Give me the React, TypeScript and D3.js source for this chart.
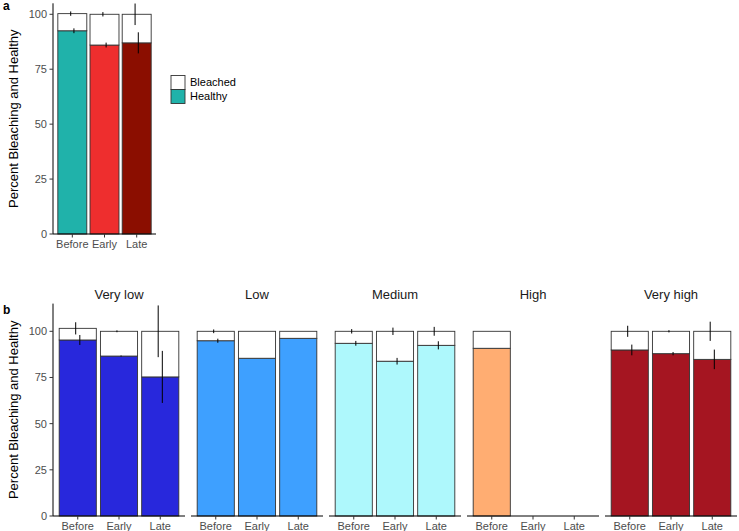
import * as d3 from "d3";

// time periods on the x axis
const periods = ["Before", "Early", "Late"];

// panel a: all sites
const aHealthy = [92.5, 86, 87];
const aTotal = [100.3, 100, 100];
const aBleachedErr = [1, 1, 4.9];
const aHealthyErr = [1.1, 1.1, 4.8];
const aColors = ["#20B2AA", "#EE2E2E", "#8B0E00"];

// panel b: by heat stress group
const groups = ["Very low", "Low", "Medium", "High", "Very high"];
const groupColors = ["#2828DC", "#3EA0FF", "#AEF8FC", "#FFAD72", "#A51521"];
const bHealthy: (number | null)[][] = [
  [95.3, 86.6, 75.3],
  [94.9, 85.4, 96.2],
  [93.5, 83.8, 92.4],
  [90.8, null, null],
  [89.9, 87.9, 84.8],
];
const bTotal: (number | null)[][] = [
  [101.6, 100, 100],
  [100, 100, 100],
  [100, 100, 100],
  [100, null, null],
  [100, 100, 100],
];
const bBleachedErr = [
  [3.3, 0.5, 14],
  [1, 0, 0],
  [1.2, 2, 2.4],
  [0, 0, 0],
  [3, 0.6, 5.2],
];
const bHealthyErr = [
  [2.7, 0.3, 14.1],
  [1.1, 0, 0],
  [1.3, 1.8, 2.2],
  [0, 0, 0],
  [2.9, 0.9, 5.3],
];

const yTicks = [0, 25, 50, 75, 100];
const legendKeys = ["Bleached", "Healthy"];

const font = "'Liberation Sans', Arial, sans-serif";
const outline = "#333333";

type PanelProps = {
  x0: number;
  x1: number;
  yScale: d3.ScaleLinear<number, number>;
  healthy: (number | null)[];
  total: (number | null)[];
  bleachedErr: number[];
  healthyErr: number[];
  colors: string[];
  showY: boolean;
};

const Panel = ({ x0, x1, yScale, healthy, total, bleachedErr, healthyErr, colors, showY }: PanelProps) => {
  const x = d3.scaleBand<string>().domain(periods).range([x0, x1]).paddingInner(0.1).paddingOuter(0.15);
  const y0 = yScale(0);
  const dodge = x.step() * 0.05;
  const [yTop] = yScale.range().slice(1);
  return (
    <g>
      {periods.map((p, i) => {
        const h = healthy[i];
        const t = total[i];
        if (h == null || t == null) return null;
        const bx = x(p)!;
        const w = x.bandwidth();
        const cx = bx + w / 2;
        return (
          <g key={p}>
            <rect x={bx} y={yScale(h)} width={w} height={y0 - yScale(h)} fill={colors[i]} stroke={outline} strokeWidth={0.9} />
            <rect x={bx} y={yScale(t)} width={w} height={yScale(h) - yScale(t)} fill="white" stroke={outline} strokeWidth={0.9} />
            {bleachedErr[i] > 0 && (
              <line x1={cx - dodge} x2={cx - dodge} y1={yScale(t - bleachedErr[i])} y2={yScale(t + bleachedErr[i])} stroke="black" strokeWidth={1} />
            )}
            {healthyErr[i] > 0 && (
              <line x1={cx + dodge} x2={cx + dodge} y1={yScale(h - healthyErr[i])} y2={yScale(h + healthyErr[i])} stroke="black" strokeWidth={1} />
            )}
          </g>
        );
      })}
      <line x1={x0} x2={x1} y1={y0} y2={y0} stroke="black" strokeWidth={1} />
      {periods.map((p) => {
        const cx = x(p)! + x.bandwidth() / 2;
        return (
          <g key={p}>
            <line x1={cx} x2={cx} y1={y0} y2={y0 + 3.5} stroke="#333" strokeWidth={1} />
            <text x={cx} y={y0 + 14} textAnchor="middle" fontSize={11} fill="#4D4D4D" fontFamily={font}>{p}</text>
          </g>
        );
      })}
      {showY && (
        <g>
          <line x1={x0} x2={x0} y1={y0} y2={yTop} stroke="black" strokeWidth={1} />
          {yTicks.map((t) => (
            <g key={t}>
              <line x1={x0 - 3.5} x2={x0} y1={yScale(t)} y2={yScale(t)} stroke="#333" strokeWidth={1} />
              <text x={x0 - 6} y={yScale(t) + 4} textAnchor="end" fontSize={11} fill="#4D4D4D" fontFamily={font}>{t}</text>
            </g>
          ))}
        </g>
      )}
    </g>
  );
};

const App = () => {
  const yA = d3.scaleLinear().domain([0, 105]).range([234, 3.3]);
  const yB = d3.scaleLinear().domain([0, 115]).range([516, 303.6]);
  const panelW = 132;
  const gap = 6;
  const bLeft = 53;

  return (
    <svg width={739} height={531} style={{ position: "absolute", left: 0, top: 0, background: "white" }}>
      <text x={3} y={10} fontSize={12} fontWeight="bold" fontFamily={font}>a</text>
      <text x={3} y={314} fontSize={12} fontWeight="bold" fontFamily={font}>b</text>

      <text transform={`translate(18,${(yA(0) + yA(105)) / 2}) rotate(-90)`} textAnchor="middle" fontSize={13} fontFamily={font}>
        Percent Bleaching and Healthy
      </text>
      <Panel x0={53} x1={156} yScale={yA} healthy={aHealthy} total={aTotal} bleachedErr={aBleachedErr} healthyErr={aHealthyErr} colors={aColors} showY={true} />

      {legendKeys.map((k, i) => (
        <g key={k}>
          <rect x={171} y={75.5 + i * 14} width={14} height={14} fill={i === 0 ? "white" : aColors[0]} stroke={outline} strokeWidth={0.9} />
          <text x={190} y={86 + i * 14} fontSize={11} fontFamily={font}>{k}</text>
        </g>
      ))}

      <text transform={`translate(18,${(yB(0) + yB(115)) / 2}) rotate(-90)`} textAnchor="middle" fontSize={13} fontFamily={font}>
        Percent Bleaching and Healthy
      </text>
      {groups.map((g, gi) => {
        const x0 = bLeft + gi * (panelW + gap);
        return (
          <g key={g}>
            <text x={x0 + panelW / 2} y={299} textAnchor="middle" fontSize={13} fill="#1A1A1A" fontFamily={font}>{g}</text>
            <Panel
              x0={x0}
              x1={x0 + panelW}
              yScale={yB}
              healthy={bHealthy[gi]}
              total={bTotal[gi]}
              bleachedErr={bBleachedErr[gi]}
              healthyErr={bHealthyErr[gi]}
              colors={[groupColors[gi], groupColors[gi], groupColors[gi]]}
              showY={gi === 0}
            />
          </g>
        );
      })}
    </svg>
  );
};

export default App;
